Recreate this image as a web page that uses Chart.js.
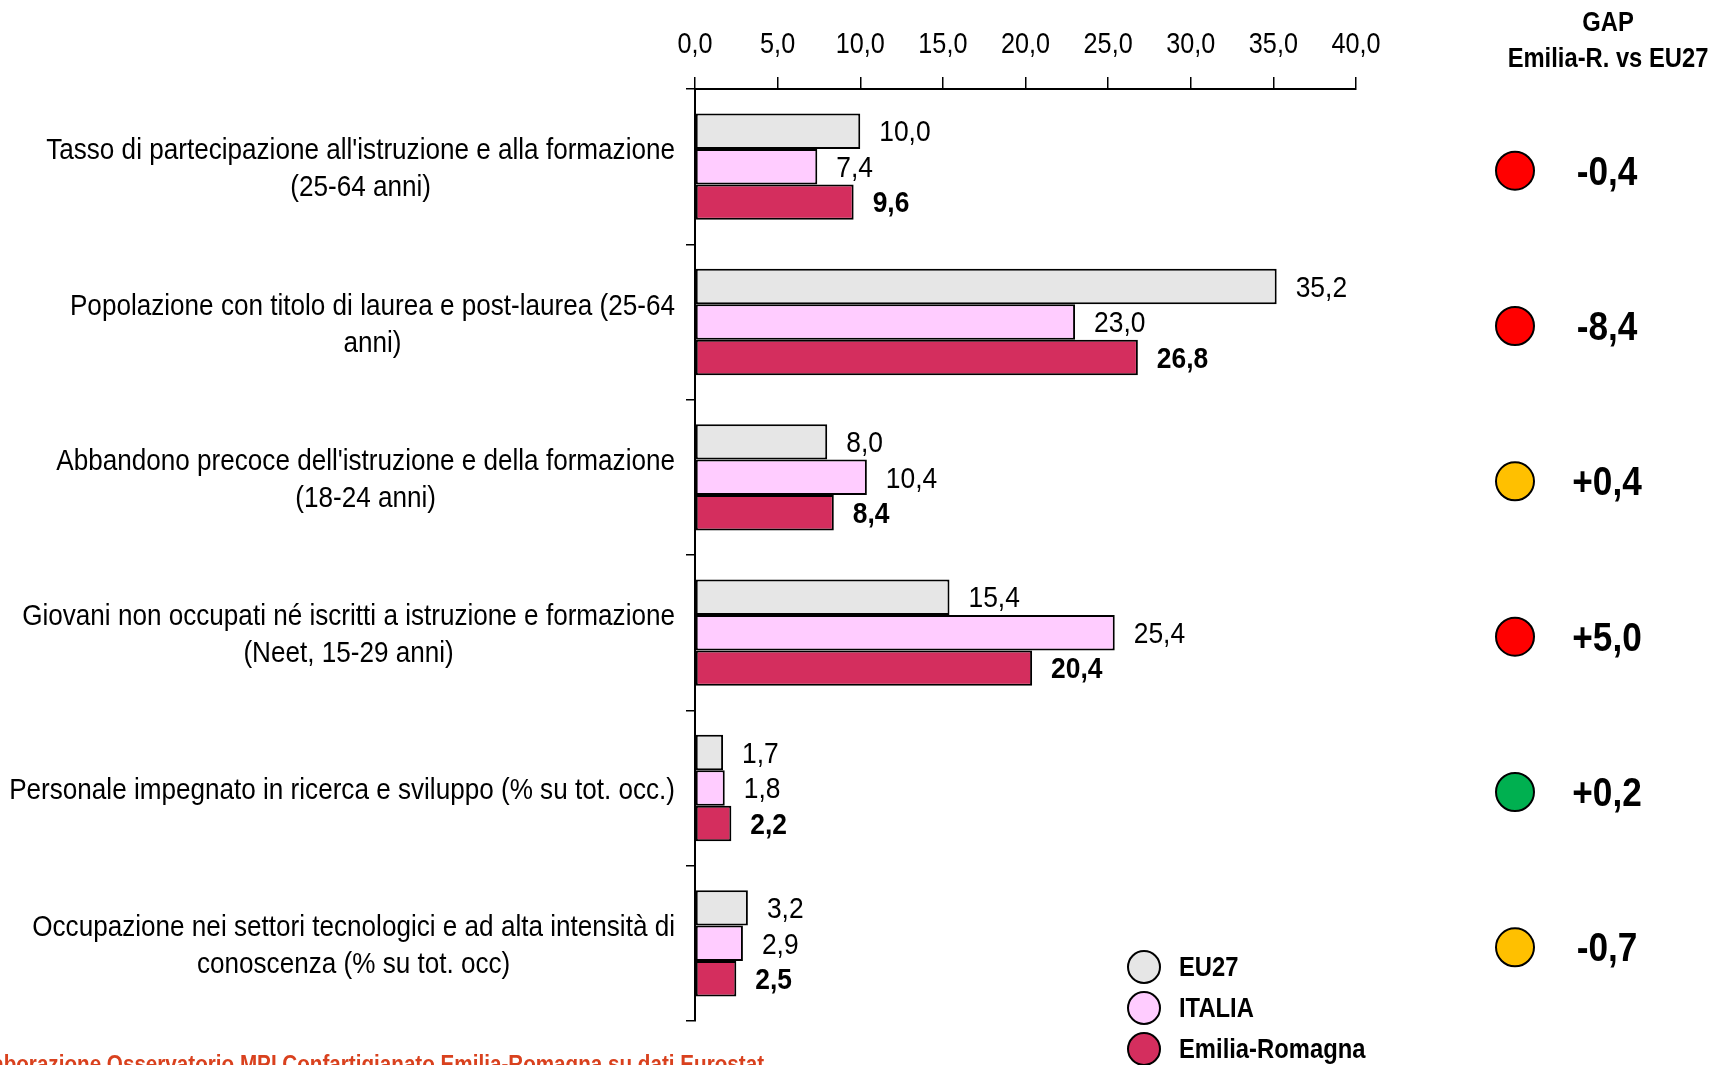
<!DOCTYPE html>
<html>
<head>
<meta charset="utf-8">
<script src="https://cdn.jsdelivr.net/npm/chart.js@4/dist/chart.umd.min.js"></script>
<style>
  html, body { margin: 0; padding: 0; background: #fff; }
  #wrap { width: 1712px; height: 1065px; position: relative; }
</style>
</head>
<body>
<div id="wrap"><canvas id="chart" width="1712" height="1065"></canvas></div>
<script>
// no Arial Narrow here, so squeeze Liberation Sans horizontally
var FONT = "'Liberation Sans', Arial, sans-serif";
var NARROW = 0.87;

var categories = [
  ["Tasso di partecipazione all'istruzione e alla formazione", "(25-64 anni)"],
  ["Popolazione con titolo di laurea e post-laurea (25-64", "anni)"],
  ["Abbandono precoce dell'istruzione e della formazione", "(18-24 anni)"],
  ["Giovani non occupati né iscritti a istruzione e formazione", "(Neet, 15-29 anni)"],
  ["Personale impegnato in ricerca e sviluppo (% su tot. occ.)"],
  ["Occupazione nei settori tecnologici e ad alta intensità di", "conoscenza (% su tot. occ)"]
];
var eu27 = [10.0, 35.2, 8.0, 15.4, 1.7, 3.2];
var italia = [7.4, 23.0, 10.4, 25.4, 1.8, 2.9];
var emiliaRomagna = [9.6, 26.8, 8.4, 20.4, 2.2, 2.5];
var gap = [-0.4, -8.4, 0.4, 5.0, 0.2, -0.7];
var gapColors = ["#FF0000", "#FF0000", "#FFC000", "#FF0000", "#00B050", "#FFC000"];
var seriesNames = ["EU27", "ITALIA", "Emilia-Romagna"];
var seriesColors = ["#E6E6E6", "#FFCCFF", "#D42E5E"];
var xTicks = [0, 5, 10, 15, 20, 25, 30, 35, 40];

function fmt(v) {
  return v.toFixed(1).replace(".", ",");
}

function setFont(ctx, size, bold) {
  ctx.font = (bold ? "bold " : "") + size + "px " + FONT;
}

function narrowWidth(ctx, text, k) {
  return ctx.measureText(text).width * (k || NARROW);
}

function narrowText(ctx, text, x, y, align, k) {
  ctx.save();
  ctx.textAlign = align;
  ctx.translate(x, y);
  ctx.scale(k || NARROW, 1);
  ctx.fillText(text, 0, 0);
  ctx.restore();
}

// value labels at the end of each bar
var barLabels = {
  id: "barLabels",
  afterDatasetsDraw: function (chart) {
    var ctx = chart.ctx;
    ctx.save();
    ctx.fillStyle = "#000";
    ctx.textBaseline = "middle";
    chart.data.datasets.forEach(function (ds, i) {
      var meta = chart.getDatasetMeta(i);
      setFont(ctx, 30, i == 2);
      meta.data.forEach(function (bar, j) {
        narrowText(ctx, fmt(ds.data[j]), bar.x + 19, bar.y + 2, "left", 0.88);
      });
    });
    ctx.restore();
  }
};

// tick labels, category labels, gap column, legend and source
var extras = {
  id: "extras",
  afterDraw: function (chart) {
    var ctx = chart.ctx;
    var x = chart.scales.x;
    var y = chart.scales.y;
    ctx.save();
    ctx.fillStyle = "#000";
    ctx.textBaseline = "middle";

    setFont(ctx, 30, false);
    xTicks.forEach(function (v) {
      narrowText(ctx, fmt(v), x.getPixelForValue(v), 45, "center", 0.84);
    });

    // category labels: block right-aligned, lines centred inside it
    setFont(ctx, 30, false);
    categories.forEach(function (lines, i) {
      var cy = y.getPixelForValue(i) + 3;
      var w = 0;
      lines.forEach(function (l) { w = Math.max(w, narrowWidth(ctx, l)); });
      var cx = 675 - w / 2;
      lines.forEach(function (l, k) {
        narrowText(ctx, l, cx, cy + (k - (lines.length - 1) / 2) * 37, "center");
      });
    });

    // gap header
    setFont(ctx, 27, true);
    narrowText(ctx, "GAP", 1608, 24, "center", 0.88);
    narrowText(ctx, "Emilia-R. vs EU27", 1608, 60, "center", 0.88);

    // gap circles and values
    gap.forEach(function (g, i) {
      var cy = y.getPixelForValue(i) + 4;
      ctx.beginPath();
      ctx.arc(1515, cy, 19, 0, Math.PI * 2);
      ctx.fillStyle = gapColors[i];
      ctx.fill();
      ctx.lineWidth = 2;
      ctx.strokeStyle = "#000";
      ctx.stroke();
      ctx.fillStyle = "#000";
      setFont(ctx, 40, true);
      narrowText(ctx, (g > 0 ? "+" : "") + fmt(g), 1607, cy + 3, "center", 0.88);
    });

    // legend
    var ly = [967, 1008, 1049];
    seriesNames.forEach(function (n, i) {
      ctx.beginPath();
      ctx.arc(1144, ly[i], 16, 0, Math.PI * 2);
      ctx.fillStyle = seriesColors[i];
      ctx.fill();
      ctx.lineWidth = 2;
      ctx.strokeStyle = "#000";
      ctx.stroke();
      ctx.fillStyle = "#000";
      setFont(ctx, 28, true);
      narrowText(ctx, n, 1179, ly[i] + 1, "left", 0.85);
    });

    // source (cut off at the bottom edge like the original)
    ctx.fillStyle = "#D9411E";
    setFont(ctx, 24, true);
    ctx.textBaseline = "top";
    narrowText(ctx, "Elaborazione Osservatorio MPI Confartigianato Emilia-Romagna su dati Eurostat", 764, 1053, "right", 0.86);
    ctx.restore();
  }
};

new Chart(document.getElementById("chart"), {
  type: "bar",
  data: {
    labels: categories,
    datasets: [
      { label: seriesNames[0], data: eu27, backgroundColor: seriesColors[0] },
      { label: seriesNames[1], data: italia, backgroundColor: seriesColors[1] },
      { label: seriesNames[2], data: emiliaRomagna, backgroundColor: seriesColors[2] }
    ]
  },
  options: {
    indexAxis: "y",
    responsive: false,
    animation: false,
    layout: { padding: { left: 0, right: 356, top: 0, bottom: 44 } },
    datasets: {
      bar: {
        categoryPercentage: 0.685,
        barPercentage: 1.0,
        borderColor: "#000",
        borderWidth: 2,
        borderSkipped: false
      }
    },
    plugins: {
      legend: { display: false },
      tooltip: { enabled: false }
    },
    scales: {
      x: {
        position: "top",
        min: 0,
        max: 40,
        afterBuildTicks: function (scale) {
          scale.ticks = xTicks.map(function (v) { return { value: v }; });
        },
        afterFit: function (scale) { scale.height = 89; },
        ticks: { display: false },
        grid: {
          drawOnChartArea: false,
          color: "#000",
          lineWidth: 1.5,
          tickLength: 12
        },
        border: { color: "#000", width: 2 }
      },
      y: {
        afterFit: function (scale) { scale.width = 695; },
        ticks: { display: false },
        grid: {
          drawOnChartArea: false,
          offset: true,
          color: "#000",
          lineWidth: 1.5,
          tickLength: 9
        },
        border: { color: "#000", width: 2 }
      }
    }
  },
  plugins: [barLabels, extras]
});
</script>
</body>
</html>
